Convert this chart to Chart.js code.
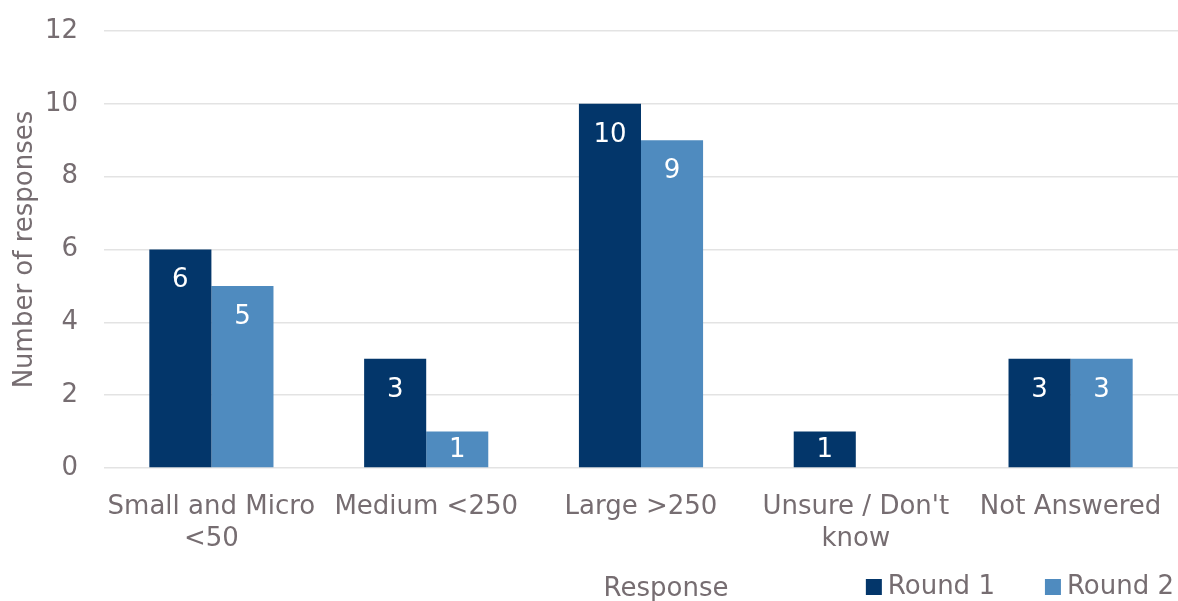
<!DOCTYPE html>
<html>
<head>
<meta charset="utf-8">
<script src="https://cdn.jsdelivr.net/npm/chart.js@4"></script>
<style>
  html, body { margin: 0; padding: 0; background: #fff; }
  #wrap { width: 1178px; height: 601px; }
</style>
</head>
<body>
<div id="wrap"><canvas id="chartSize"></canvas></div>
<script>
const categorias = [['Small and Micro', '<50'], 'Medium <250', 'Large >250', ["Unsure / Don't", 'know'], 'Not Answered'];
const ronda1 = [6, 3, 10, 1, 3];
const ronda2 = [5, 1, 9, 0, 3];
const ticksY = [0, 2, 4, 6, 8, 10, 12];

const colorTexto = '#766D71';
const fuente = 'DejaVu Sans';
const tam = 26;

// Etiquetas de valor dentro de la barra, cerca del extremo superior
const etiquetasValor = {
    id: 'etiquetasValor',
    afterDatasetsDraw(chart) {
        const ctx = chart.ctx;
        ctx.save();
        ctx.font = tam + 'px "' + fuente + '"';
        ctx.fillStyle = '#ffffff';
        ctx.textAlign = 'center';
        ctx.textBaseline = 'middle';
        chart.data.datasets.forEach((ds, i) => {
            chart.getDatasetMeta(i).data.forEach((bar, j) => {
                const v = ds.data[j];
                if (!v) return;
                const y = Math.min(bar.y + 31, (bar.y + bar.base) / 2 + 1);
                ctx.fillText(String(v), bar.x, y);
            });
        });
        ctx.restore();
    }
};

// Título del eje X y leyenda en la misma línea inferior
const pieInferior = {
    id: 'pieInferior',
    afterDraw(chart) {
        const ctx = chart.ctx;
        ctx.save();
        ctx.font = tam + 'px "' + fuente + '"';
        ctx.fillStyle = colorTexto;
        ctx.textAlign = 'center';
        ctx.textBaseline = 'middle';
        ctx.fillText('Response', 666, 589);

        // Leyenda alineada a la derecha
        const yLey = 587;
        let x = 1174;
        const items = chart.data.datasets.slice().reverse();
        ctx.textAlign = 'right';
        items.forEach(ds => {
            const w = ctx.measureText(ds.label).width;
            ctx.fillStyle = colorTexto;
            ctx.fillText(ds.label, x, yLey);
            const xCaja = x - w - 22;
            ctx.fillStyle = ds.backgroundColor;
            ctx.fillRect(xCaja, yLey - 8, 16, 16);
            x = xCaja - 50;
        });
        ctx.restore();
    }
};

new Chart(document.getElementById('chartSize'), {
    type: 'bar',
    data: {
        labels: categorias,
        datasets: [
            { label: 'Round 1', data: ronda1, backgroundColor: '#03366A', barPercentage: 1, categoryPercentage: 0.578 },
            { label: 'Round 2', data: ronda2, backgroundColor: '#4F8BBF', barPercentage: 1, categoryPercentage: 0.578 }
        ]
    },
    options: {
        responsive: true,
        maintainAspectRatio: false,
        animation: false,
        layout: { padding: { top: 31, right: 0, left: 0, bottom: 0 } },
        plugins: {
            legend: { display: false },
            tooltip: { enabled: false }
        },
        scales: {
            x: {
                grid: { display: false },
                border: { display: false },
                ticks: {
                    color: colorTexto,
                    font: { family: fuente, size: tam, lineHeight: 1.23 },
                    padding: 15,
                    maxRotation: 0,
                    autoSkip: false
                },
                afterFit(scale) {
                    scale.height = 133;
                    scale.paddingLeft = 0;
                    scale.paddingRight = 0;
                }
            },
            y: {
                min: 0,
                max: 12,
                afterBuildTicks(scale) { scale.ticks = ticksY.map(v => ({ value: v })); },
                grid: { color: '#E3E3E3', lineWidth: 1.5, drawTicks: false },
                border: { display: false },
                ticks: {
                    color: colorTexto,
                    font: { family: fuente, size: tam },
                    padding: 26
                },
                title: {
                    display: true,
                    text: 'Number of responses',
                    color: colorTexto,
                    font: { family: fuente, size: tam },
                    padding: { top: 10, bottom: 0 }
                },
                afterFit(scale) {
                    scale.width = 104;
                    scale.paddingTop = 0;
                    scale.paddingBottom = 0;
                }
            }
        }
    },
    plugins: [etiquetasValor, pieInferior]
});
</script>
</body>
</html>
